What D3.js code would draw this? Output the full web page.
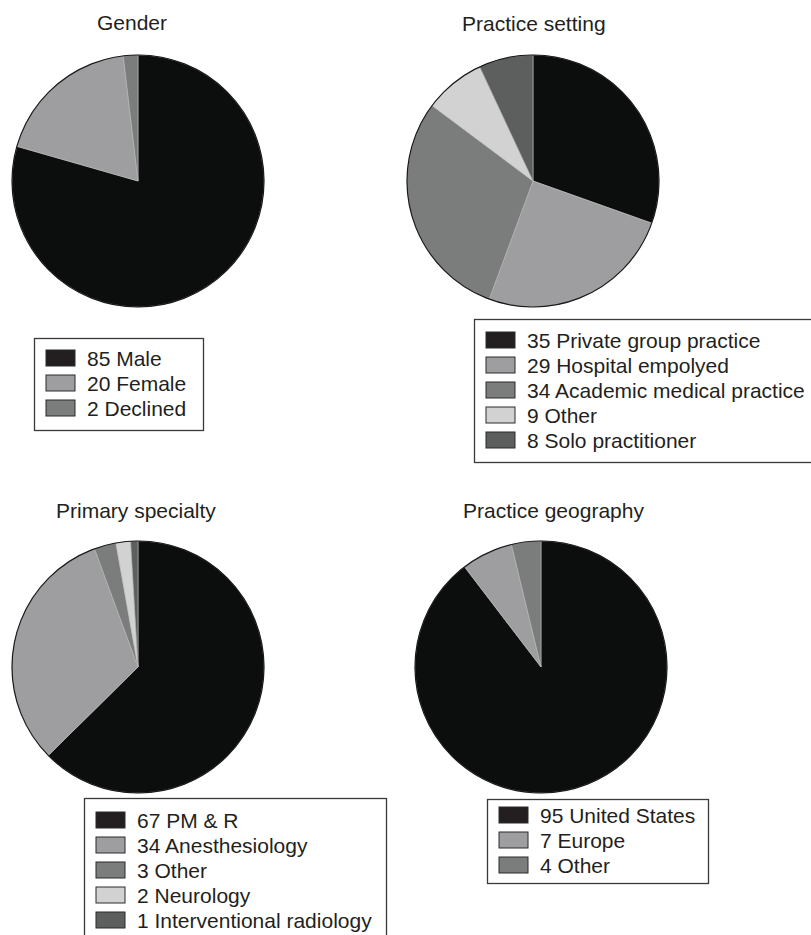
<!DOCTYPE html>
<html lang="en">
<head>
    <meta charset="UTF-8">
    <title>Survey respondent characteristics</title>
    <script src="https://d3js.org/d3.v7.min.js"></script>
    <style>
        body {
            margin: 0;
            padding: 0;
            background: #fff;
        }
        svg {
            display: block;
            font-family: "Liberation Sans", Arial, sans-serif;
        }
        .title {
            font-size: 21px;
            fill: #231f20;
        }
        .legend text {
            font-size: 21px;
            fill: #231f20;
        }
    </style>
</head>
<body>
    <svg width="811" height="935"></svg>

    <script>
        // data
        const genderLabels = ["Male", "Female", "Declined"];
        const genderCounts = [85, 20, 2];

        const settingLabels = ["Private group practice", "Hospital empolyed", "Academic medical practice", "Other", "Solo practitioner"];
        const settingCounts = [35, 29, 34, 9, 8];

        const specialtyLabels = ["PM & R", "Anesthesiology", "Other", "Neurology", "Interventional radiology"];
        const specialtyCounts = [67, 34, 3, 2, 1];

        const geographyLabels = ["United States", "Europe", "Other"];
        const geographyCounts = [95, 7, 4];

        // fills by slice order
        const genderFills = ["#0c0e0d", "#9e9ea1", "#7b7d7c"];
        const settingFills = ["#0c0e0d", "#9e9ea1", "#7b7d7c", "#d2d2d2", "#5d5f5e"];
        const specialtyFills = ["#0c0e0d", "#9e9ea1", "#7b7d7c", "#d2d2d2", "#5d5f5e"];
        const geographyFills = ["#0c0e0d", "#9e9ea1", "#7b7d7c"];

        const panels = [
            { title: "Gender", labels: genderLabels, counts: genderCounts, fills: genderFills,
              cx: 138, cy: 181, tx: 97, ty: 30,
              box: { x: 34, y: 338, w: 169, h: 92, first: 20 } },
            { title: "Practice setting", labels: settingLabels, counts: settingCounts, fills: settingFills,
              cx: 533, cy: 181, tx: 462, ty: 31,
              box: { x: 474, y: 319, w: 340, h: 143, first: 21 } },
            { title: "Primary specialty", labels: specialtyLabels, counts: specialtyCounts, fills: specialtyFills,
              cx: 138, cy: 667, tx: 56, ty: 518,
              box: { x: 84, y: 798, w: 302, h: 150, first: 22 } },
            { title: "Practice geography", labels: geographyLabels, counts: geographyCounts, fills: geographyFills,
              cx: 541, cy: 667, tx: 463, ty: 518,
              box: { x: 487, y: 799, w: 221, h: 84, first: 16 } }
        ];

        const radius = 126;
        const rowStep = 25;

        const svg = d3.select("svg");
        const pie = d3.pie().sort(null).value(d => d);
        const arc = d3.arc().innerRadius(0).outerRadius(radius);

        panels.forEach(p => {
            const color = d3.scaleOrdinal().domain(d3.range(p.counts.length)).range(p.fills);

            svg.append("text")
                .attr("class", "title")
                .attr("x", p.tx)
                .attr("y", p.ty)
                .text(p.title);

            const g = svg.append("g").attr("transform", `translate(${p.cx},${p.cy})`);

            g.selectAll("path")
                .data(pie(p.counts))
                .join("path")
                .attr("d", arc)
                .attr("fill", (d, i) => color(i))
                .attr("stroke", "#b8b8b8")
                .attr("stroke-width", 0.6);

            g.append("circle")
                .attr("r", radius)
                .attr("fill", "none")
                .attr("stroke", "#1a1a1a")
                .attr("stroke-width", 1.2);

            // legend
            const b = p.box;
            const lg = svg.append("g").attr("class", "legend");

            lg.append("rect")
                .attr("x", b.x + 0.5)
                .attr("y", b.y + 0.5)
                .attr("width", b.w)
                .attr("height", b.h)
                .attr("fill", "#fff")
                .attr("stroke", "#3a3a3a")
                .attr("stroke-width", 1.3);

            const rows = lg.selectAll("g.row")
                .data(p.labels)
                .join("g")
                .attr("class", "row")
                .attr("transform", (d, i) => `translate(${b.x},${b.y + b.first + i * rowStep})`);

            rows.append("rect")
                .attr("x", 12)
                .attr("y", -8)
                .attr("width", 29)
                .attr("height", 16)
                .attr("fill", (d, i) => i === 0 ? "#231f20" : color(i))
                .attr("stroke", "#2a2a2a")
                .attr("stroke-width", 1);

            rows.append("text")
                .attr("x", 53)
                .attr("y", 7.5)
                .text((d, i) => `${p.counts[i]} ${d}`);
        });
    </script>
</body>
</html>
